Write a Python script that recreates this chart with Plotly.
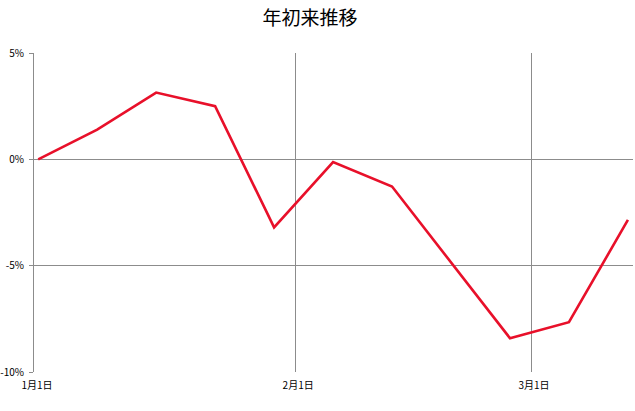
import plotly.graph_objects as go

dates = ["2021-01-01", "2021-01-08", "2021-01-15", "2021-01-22", "2021-01-29",
         "2021-02-05", "2021-02-12", "2021-02-26", "2021-03-05", "2021-03-12"]
values = [0.0, 1.40, 3.14, 2.50, -3.20, -0.13, -1.28, -8.41, -7.66, -2.85]

tick_positions = ["2020-12-31 12:00", "2021-01-31 12:00", "2021-02-28 12:00"]
tick_labels = ["1月1日", "2月1日", "3月1日"]
y_ticks = [-10, -5, 0, 5]

grid = "#8c8c8c"
font = "Noto Sans CJK JP"

fig = go.Figure()
fig.add_trace(go.Scatter(
    x=dates, y=values, mode="lines",
    line=dict(color="#e8102a", width=2.6),
    hoverinfo="skip", showlegend=False, cliponaxis=False,
))

fig.update_layout(
    width=635, height=411,
    margin=dict(l=34, r=2, t=53, b=39, autoexpand=False),
    paper_bgcolor="white", plot_bgcolor="white",
    title=dict(text="年初来推移", x=310 / 635, xanchor="center", y=1 - 18 / 411, yanchor="middle",
               font=dict(family=font, size=19, color="#000000")),
    font=dict(family=font, color="#000000"),
)

fig.update_xaxes(
    type="date", automargin=False,
    range=["2020-12-31 12:00", "2021-03-12 14:30"],
    tickmode="array", tickvals=tick_positions, ticktext=tick_labels,
    showgrid=True, gridcolor=grid, gridwidth=1,
    showline=False, zeroline=False, ticks="",
    tickfont=dict(size=10, family=font, color="#000000"),
    ticklabelstandoff=6, ticklabelshift=3,
)

fig.update_yaxes(
    range=[-10, 5], automargin=False,
    tickmode="array", tickvals=y_ticks, ticktext=[f"{v}%" for v in y_ticks],
    showgrid=True, gridcolor=grid, gridwidth=1,
    showline=True, linecolor=grid, linewidth=1,
    zeroline=False,
    ticks="outside", ticklen=4, tickcolor=grid,
    tickfont=dict(size=10, family=font, color="#000000"),
    ticklabelstandoff=3,
)

fig.write_html(
    "out.html",
    config={"displayModeBar": False, "staticPlot": True},
    post_script="document.body.style.margin='0';document.body.style.overflow='hidden';",
)
